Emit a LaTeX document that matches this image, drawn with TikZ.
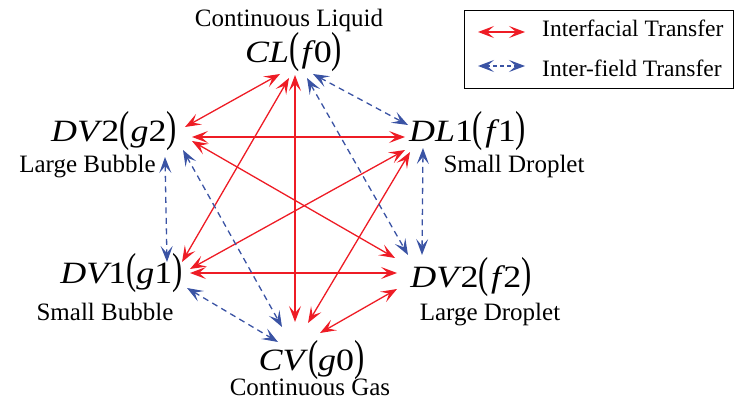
\documentclass[tikz,border=0pt]{standalone}
\usepackage{fontspec}
\usepackage{graphicx}
\setmainfont{Liberation Serif}
\usetikzlibrary{arrows.meta,calc}
\definecolor{ired}{HTML}{EE1C25}
\definecolor{iblue}{HTML}{3A53A4}
\newcommand{\lpar}{\scalebox{0.85}[1.4]{(}}
\newcommand{\rpar}{\scalebox{0.85}[1.4]{)}}
\newcommand{\fld}[1]{\scalebox{1.16}[1]{#1}}
\tikzset{
  field/.style={font=\fontsize{31}{31}\selectfont, inner sep=0pt, anchor=base},
  lab/.style={font=\fontsize{25}{25}\selectfont, inner sep=0pt, anchor=base},
  legtext/.style={font=\fontsize{23.5}{23.5}\selectfont, inner sep=0pt, anchor=base west},
  itf/.style={draw=ired, line width=1.3pt, {Stealth[length=16pt,width=12pt,inset=7pt]}-{Stealth[length=16pt,width=12pt,inset=7pt]}},
  ifd/.style={draw=iblue, line width=1.3pt, dash pattern=on 6pt off 4.5pt, {Stealth[length=16pt,width=12pt,inset=7pt]}-{Stealth[length=16pt,width=12pt,inset=7pt]}},
}
\begin{document}
\begin{tikzpicture}[x=1pt,y=-1pt]
\useasboundingbox (0,0) rectangle (735,403);
% field nodes
\node[field] (CL) at (293.5,63) {\fld{\itshape CL\upshape\lpar\hspace{2pt}\itshape f\upshape\hspace{2pt}0\rpar}};
\node[field] (G2) at (114,142) {\fld{\itshape DV\upshape\hspace{2pt}2\lpar\hspace{1pt}\itshape g\upshape 2\rpar}};
\node[field] (F1) at (467.5,142) {\fld{\itshape DL\upshape 1\lpar\hspace{2pt}\itshape f\upshape\hspace{2pt}1\rpar}};
\node[field] (G1) at (121.5,283) {\fld{\itshape DV\upshape 1\lpar\itshape g\upshape 1\rpar}};
\node[field] (F2) at (471,287) {\fld{\itshape DV\upshape\hspace{2pt}2\lpar\hspace{2pt}\itshape f\upshape\hspace{2pt}2\rpar}};
\node[field] (CV) at (311.5,370) {\fld{\itshape CV\upshape\hspace{3pt}\lpar\itshape g\upshape 0\rpar}};
% descriptive labels
\node[lab] (CLl) at (289,27) {Continuous Liquid};
\node[lab] (G2l) at (87.5,173) {Large Bubble};
\node[lab] (F1l) at (514,173) {Small Droplet};
\node[lab] (G1l) at (105,320) {Small Bubble};
\node[lab] (F2l) at (490,320) {Large Droplet};
\node[lab] (CVl) at (310,395) {Continuous Gas};
% interfacial transfer (red)
\draw[itf] ($(G2.base)+(71,-15)$) -- ($(CL.base)+(-13.5,11)$);
\draw[itf] ($(G1.base)+(60.5,-21)$) -- ($(CL.base)+(-4.5,15)$);
\draw[itf] ($(CL.base)+(1.5,12)$) -- ($(CV.base)+(-16.5,-48)$);
\draw[itf] ($(G2.base)+(78,-5)$) -- ($(F1.base)+(-62.5,-5)$);
\draw[itf] ($(G2.base)+(78,-1)$) -- ($(F2.base)+(-76,-29)$);
\draw[itf] ($(F1.base)+(-62.5,8)$) -- ($(G1.base)+(68.5,-14)$);
\draw[itf] ($(F1.base)+(-57.5,10)$) -- ($(CV.base)+(-3.5,-47)$);
\draw[itf] ($(G1.base)+(68.5,-10)$) -- ($(F2.base)+(-74,-14)$);
\draw[itf] ($(F2.base)+(-74,2)$) -- ($(CV.base)+(8.5,-37)$);
% inter-field transfer (blue dashed)
\draw[ifd] ($(CL.base)+(19.5,11)$) -- ($(F1.base)+(-59.5,-17)$);
\draw[ifd] ($(CL.base)+(13.5,15)$) -- ($(F2.base)+(-63,-32)$);
\draw[ifd] ($(G2.base)+(51,15)$) -- ($(G1.base)+(45.5,-21)$);
\draw[ifd] ($(G2.base)+(69,8)$) -- ($(CV.base)+(-29.5,-43)$);
\draw[ifd] ($(F1.base)+(-44.5,6)$) -- ($(F2.base)+(-49,-32)$);
\draw[ifd] ($(G1.base)+(65.5,5)$) -- ($(CV.base)+(-33.5,-28)$);
% legend
\node[draw, line width=0.8pt, inner sep=0pt, minimum width=269pt, minimum height=78pt, anchor=north west] (leg) at (463.5,10) {};
\coordinate (la1) at (478,32);
\coordinate (lb1) at (525,32);
\coordinate (la2) at (478,66);
\coordinate (lb2) at (525,66);
\draw[itf] (la1) -- (lb1);
\draw[ifd, dash pattern=on 4pt off 3pt] (la2) -- (lb2);
\node[legtext] (lt1) at (542,37) {Interfacial Transfer};
\node[legtext] (lt2) at (542,77) {Inter-field Transfer};
\end{tikzpicture}
\end{document}
